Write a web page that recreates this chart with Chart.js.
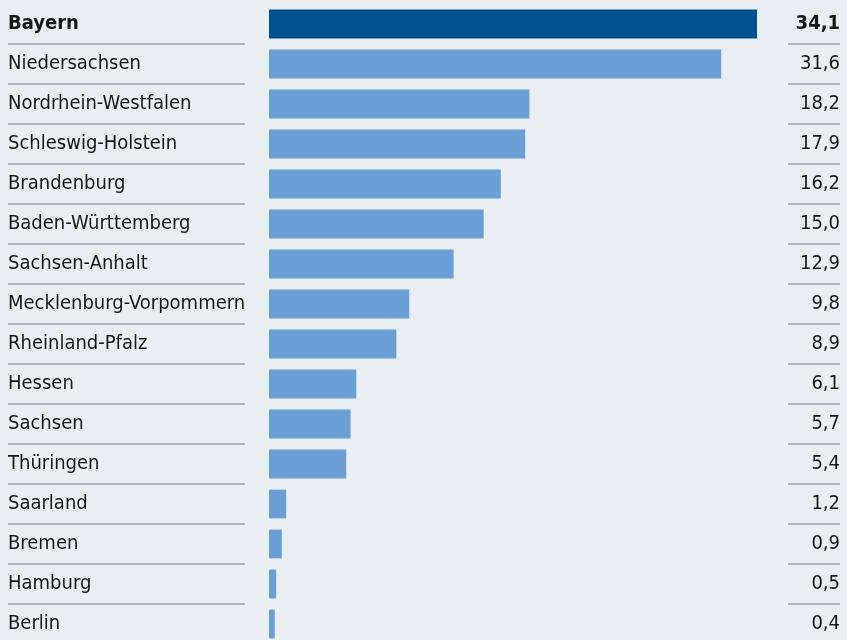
<!DOCTYPE html>
<html lang="de">
<head>
<meta charset="utf-8">
<script src="https://cdn.jsdelivr.net/npm/chart.js@4/dist/chart.umd.min.js"></script>
<style>
  html, body { margin: 0; padding: 0; background: #e9eef2; overflow: hidden; }
  #wrap { width: 847px; height: 644px; position: relative; }
</style>
</head>
<body>
<div id="wrap"><canvas id="chart"></canvas></div>
<script>
// Bundesländer and their values
const categories = [
    "Bayern", "Niedersachsen", "Nordrhein-Westfalen", "Schleswig-Holstein",
    "Brandenburg", "Baden-Württemberg", "Sachsen-Anhalt", "Mecklenburg-Vorpommern",
    "Rheinland-Pfalz", "Hessen", "Sachsen", "Thüringen",
    "Saarland", "Bremen", "Hamburg", "Berlin"
];
const values = [34.1, 31.6, 18.2, 17.9, 16.2, 15.0, 12.9, 9.8, 8.9, 6.1, 5.7, 5.4, 1.2, 0.9, 0.5, 0.4];
const valueLabels = ["34,1", "31,6", "18,2", "17,9", "16,2", "15,0", "12,9", "9,8", "8,9", "6,1", "5,7", "5,4", "1,2", "0,9", "0,5", "0,4"];

const FONT = "'DejaVu Sans Condensed', 'Liberation Sans Narrow', sans-serif";

// Draws the grey separator lines between rows, only beside the bars
const separators = {
    id: "separators",
    afterDraw(chart) {
        const ctx = chart.ctx;
        const y = chart.scales.y;
        ctx.save();
        ctx.strokeStyle = "#b1b5b9";
        ctx.lineWidth = 2;
        for (let i = 0; i < categories.length - 1; i++) {
            const py = Math.round((y.getPixelForValue(i) + y.getPixelForValue(i + 1)) / 2);
            ctx.beginPath();
            ctx.moveTo(8, py);
            ctx.lineTo(245, py);
            ctx.moveTo(788, py);
            ctx.lineTo(840, py);
            ctx.stroke();
        }
        ctx.restore();
    }
};

// Keep the rows filling the whole height (no extra room for label overflow)
function fitAxis(width) {
    return (scale) => {
        scale.width = width;
        scale.paddingTop = 0;
        scale.paddingBottom = 0;
    };
}

new Chart(document.getElementById("chart"), {
    type: "bar",
    data: {
        labels: categories,
        datasets: [{
            data: values,
            backgroundColor: (c) => (c.dataIndex === 0 ? "#00528f" : "#6a9fd6"),
            categoryPercentage: 1,
            barPercentage: 0.72,
            yAxisID: "y",
        }],
    },
    options: {
        indexAxis: "y",
        responsive: true,
        maintainAspectRatio: false,
        animation: false,
        layout: { padding: { left: 8, right: 7, top: 4, bottom: 0 } },
        plugins: {
            legend: { display: false },
            tooltip: { enabled: false },
        },
        scales: {
            x: {
                display: false,
                min: 0,
                max: 34.1,
            },
            y: {
                position: "left",
                grid: { display: false },
                border: { display: false },
                afterFit: fitAxis(261),
                ticks: {
                    crossAlign: "far",
                    color: "#161616",
                    font: (c) => ({ family: FONT, size: 20, weight: c.index === 0 ? "bold" : "normal" }),
                },
            },
            y2: {
                type: "category",
                position: "right",
                labels: valueLabels,
                offset: true,
                grid: { display: false },
                border: { display: false },
                afterFit: fitAxis(83),
                ticks: {
                    crossAlign: "far",
                    color: "#161616",
                    font: (c) => ({ family: FONT, size: 20, weight: c.index === 0 ? "bold" : "normal" }),
                },
            },
        },
    },
    plugins: [separators],
});
</script>
</body>
</html>
